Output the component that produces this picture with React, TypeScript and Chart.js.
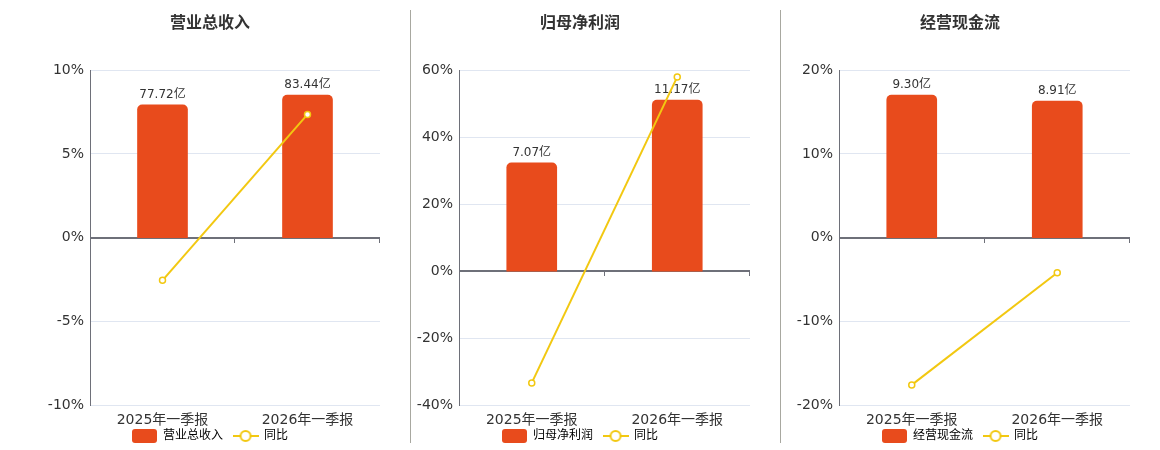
import { useEffect, useRef } from "react";
import { Chart, registerables } from "chart.js";
Chart.register(...registerables);

const categories = ["2025年一季报", "2026年一季报"];

const revenueBars = [77.72, 83.44];
const revenueYoY = [-2.55, 7.36];

const profitBars = [7.07, 11.17];
const profitYoY = [-33.4, 57.99];

const cashBars = [9.3, 8.91];
const cashYoY = [-17.6, -4.19];

const RED = "#E84B1C";
const YELLOW = "#F2C811";
const AXIS = "#6E7079";
const FONT = "'DejaVu Sans', 'Noto Sans CJK SC', sans-serif";

function barSwatch() {
  const c = document.createElement("canvas");
  c.width = 25;
  c.height = 14;
  const g = c.getContext("2d")!;
  g.fillStyle = RED;
  g.beginPath();
  g.roundRect(0, 0, 25, 14, 3);
  g.fill();
  return c;
}

function lineSwatch() {
  const c = document.createElement("canvas");
  c.width = 26;
  c.height = 14;
  const g = c.getContext("2d")!;
  g.strokeStyle = YELLOW;
  g.lineWidth = 2;
  g.beginPath();
  g.moveTo(0, 7);
  g.lineTo(26, 7);
  g.stroke();
  g.beginPath();
  g.arc(13, 7, 5, 0, Math.PI * 2);
  g.fillStyle = "#fff";
  g.fill();
  g.stroke();
  return c;
}

// zero line with small tick marks at the category boundaries
const zeroAxis = {
  id: "zeroAxis",
  beforeDatasetsDraw(chart: any) {
    const { ctx, scales } = chart;
    const x = scales.x;
    const y0 = Math.round(scales.y.getPixelForValue(0));
    const n = chart.data.labels.length;
    ctx.save();
    ctx.strokeStyle = AXIS;
    ctx.lineWidth = 2;
    ctx.beginPath();
    ctx.moveTo(x.left, y0);
    ctx.lineTo(x.right, y0);
    ctx.stroke();
    ctx.lineWidth = 1;
    ctx.beginPath();
    for (let i = 1; i <= n; i++) {
      const px = Math.round(x.left + (x.width * i) / n) - 0.5;
      ctx.moveTo(px, y0);
      ctx.lineTo(px, y0 + 5);
    }
    ctx.stroke();
    ctx.restore();
  },
};

// draws "xx.xx亿" above each bar, before the line is drawn on top
const barLabels = {
  id: "barLabels",
  afterDatasetDraw(chart: any, args: any) {
    const ds = chart.data.datasets[args.index];
    if (ds.type !== "bar") return;
    const ctx = chart.ctx;
    ctx.save();
    ctx.font = `12px ${FONT}`;
    ctx.fillStyle = "#333";
    ctx.textAlign = "center";
    ctx.textBaseline = "bottom";
    args.meta.data.forEach((el: any, i: number) => {
      ctx.fillText(`${ds.data[i].toFixed(2)}亿`, el.x, el.y - 4);
    });
    ctx.restore();
  },
};

type PanelProps = {
  title: string;
  bars: number[];
  yoy: number[];
  min: number;
  max: number;
  step: number;
  axisWidth: number;
};

function Panel({ title, bars, yoy, min, max, step, axisWidth }: PanelProps) {
  const canvasRef = useRef<HTMLCanvasElement>(null);

  useEffect(() => {
    if (!canvasRef.current) return;
    const ctx = canvasRef.current.getContext("2d");
    if (!ctx) return;

    const barMax = Math.max(...bars) * 1.175;
    const barMin = (barMax * min) / max;
    const swatches = [barSwatch(), lineSwatch()];

    const chart = new Chart(ctx, {
      type: "bar",
      data: {
        labels: categories,
        datasets: [
          { type: "line", label: "同比", data: yoy, yAxisID: "y", borderColor: YELLOW, borderWidth: 2, pointRadius: 3, pointBorderWidth: 1.5, pointBackgroundColor: "#fff", pointBorderColor: YELLOW, order: 0 },
          { type: "bar", label: title, data: bars, yAxisID: "y2", backgroundColor: RED, barThickness: 50, borderRadius: { topLeft: 5, topRight: 5 }, borderSkipped: "start", order: 1 },
        ] as any,
      },
      options: {
        responsive: true,
        maintainAspectRatio: false,
        animation: false,
        layout: { padding: 0, autoPadding: false },
        plugins: {
          title: { display: true, text: title, color: "#333", font: { family: FONT, size: 16, weight: "bold" }, padding: { top: 14, bottom: 37 } },
          tooltip: { enabled: false },
          legend: {
            position: "bottom",
            labels: {
              usePointStyle: true,
              pointStyleWidth: 25,
              padding: 10,
              color: "#333",
              font: { family: FONT, size: 12 },
              generateLabels: () => [
                { text: title, pointStyle: swatches[0], fillStyle: RED, strokeStyle: RED, lineWidth: 0, hidden: false, datasetIndex: 1 },
                { text: "同比", pointStyle: swatches[1], fillStyle: YELLOW, strokeStyle: YELLOW, lineWidth: 0, hidden: false, datasetIndex: 0 },
              ],
            },
          },
        },
        scales: {
          x: {
            grid: { display: false, drawTicks: false },
            border: { display: false },
            ticks: { color: "#333", font: { family: FONT, size: 14 }, padding: 7 },
            // the category labels sit partly over the legend row, so keep the box short and unclipped
            afterFit: (axis: any) => {
              axis.height = 15;
              axis._computeLabelArea = () => undefined;
            },
          },
          y: {
            min,
            max,
            ticks: { stepSize: step, color: "#333", font: { family: FONT, size: 14 }, padding: 6, callback: (v: any) => `${v}%` },
            grid: { color: "#E0E6F1", drawTicks: false },
            border: { color: AXIS, width: 1 },
            afterFit: (axis: any) => { axis.width = axisWidth; },
          },
          y2: { display: false, min: barMin, max: barMax },
        } as any,
      },
      plugins: [zeroAxis, barLabels],
    });

    return () => chart.destroy();
  }, []);

  return <canvas ref={canvasRef} />;
}

export default function App() {
  return (
    <div style={{ position: "absolute", left: 0, top: 0, width: 1160, height: 450, background: "#fff", overflow: "hidden" }}>
      <div style={{ position: "absolute", left: 410, top: 10, width: 0, height: 433, borderLeft: "1px solid #A8A8A0" }} />
      <div style={{ position: "absolute", left: 780, top: 10, width: 0, height: 433, borderLeft: "1px solid #A8A8A0" }} />
      <div style={{ position: "absolute", left: 40, top: 0, width: 340, height: 452 }}>
        <Panel title="营业总收入" bars={revenueBars} yoy={revenueYoY} min={-10} max={10} step={5} axisWidth={50} />
      </div>
      <div style={{ position: "absolute", left: 410, top: 0, width: 340, height: 452 }}>
        <Panel title="归母净利润" bars={profitBars} yoy={profitYoY} min={-40} max={60} step={20} axisWidth={49} />
      </div>
      <div style={{ position: "absolute", left: 790, top: 0, width: 340, height: 452 }}>
        <Panel title="经营现金流" bars={cashBars} yoy={cashYoY} min={-20} max={20} step={10} axisWidth={49} />
      </div>
    </div>
  );
}
